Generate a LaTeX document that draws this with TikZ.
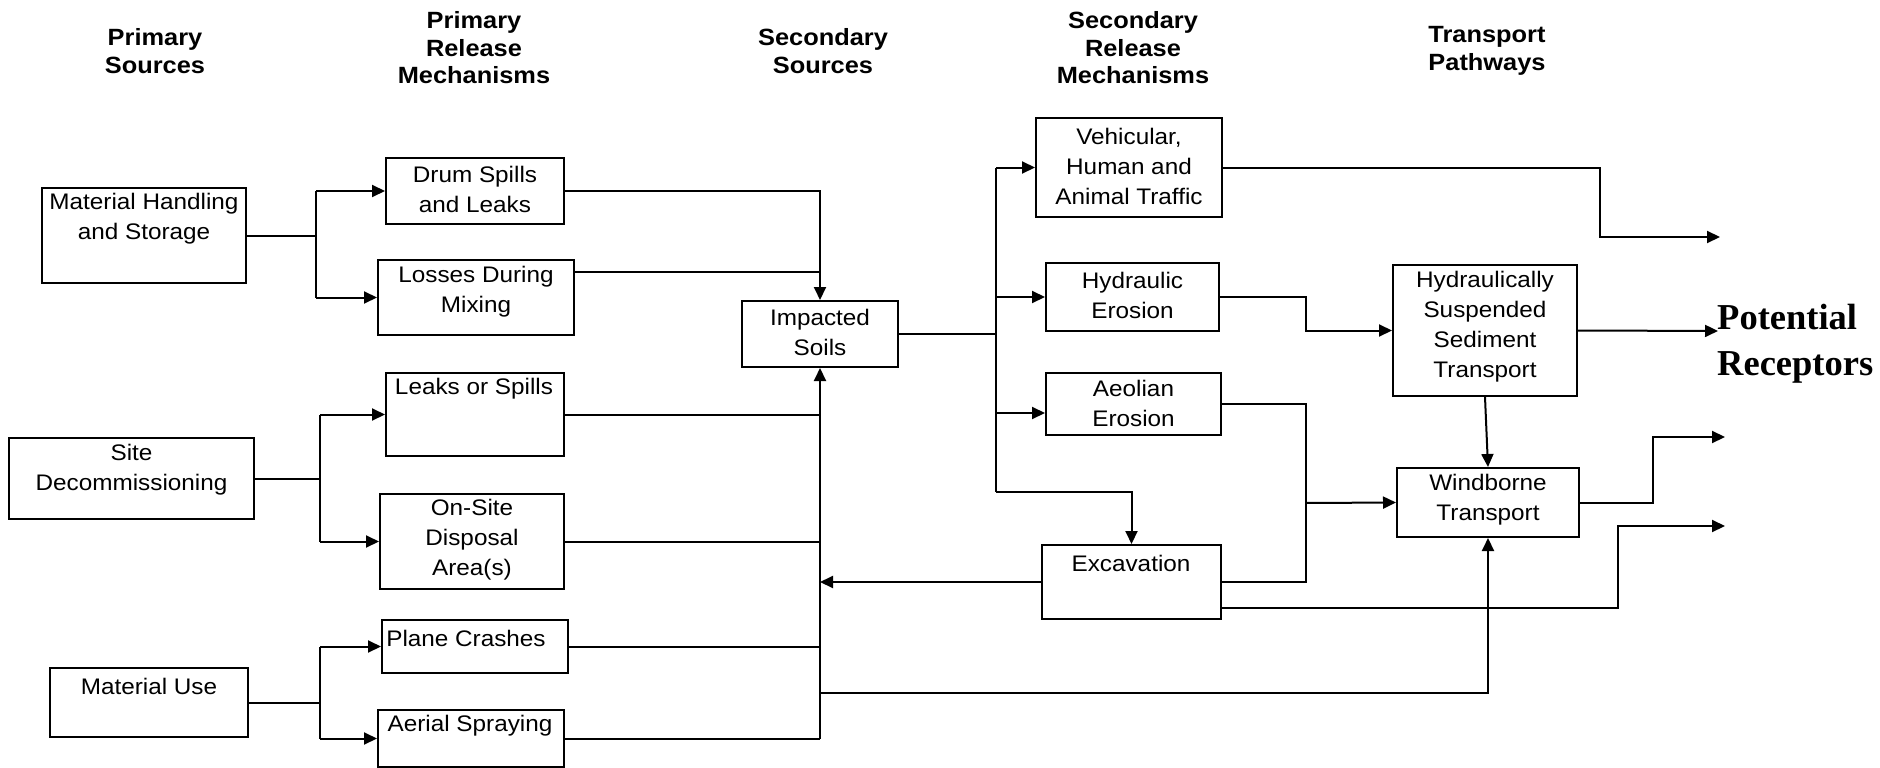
\documentclass[tikz,border=0pt]{standalone}
\usepackage{fontspec}
\setmainfont{Liberation Sans}[FakeStretch=1.08]
\newfontfamily\recfont{Liberation Serif}
\usetikzlibrary{arrows.meta,calc}
\newcommand\boxfont{\fontsize{22.5}{30}\selectfont}
\newcommand\hdrfont{\fontsize{23.5}{27.5}\selectfont\bfseries}
\begin{document}
\begin{tikzpicture}[x=1pt,y=-1pt,
  box/.style={draw, line width=2pt, inner sep=0pt},
  txt/.style={align=center, inner sep=0pt, font=\boxfont},
  hdr/.style={align=center, inner sep=0pt, font=\hdrfont},
  ln/.style={line width=2pt},
  arr/.style={line width=2pt, -{Triangle[length=13pt,width=12pt]}}]
\useasboundingbox (0,0) rectangle (1880,768);

% headers
\node[hdr] (h1) at (155,51) {Primary\\Sources};
\node[hdr] (h2) at (474,48) {Primary\\Release\\Mechanisms};
\node[hdr] (h3) at (823,51) {Secondary\\Sources};
\node[hdr] (h4) at (1133,48) {Secondary\\Release\\Mechanisms};
\node[hdr] (h5) at (1487,51) {Transport\\Pathways};

% primary sources
\node[box, minimum width=204, minimum height=95] (mh) at (144,235.5) {};
\node[txt] (mht) at (144,219) {Material Handling\\and Storage};
\node[box, minimum width=245, minimum height=81] (sd) at (131.5,478.5) {};
\node[txt] (sdt) at (131.5,470) {Site\\Decommissioning};
\node[box, minimum width=198, minimum height=69] (mu) at (149,702.5) {};
\node[txt] (mut) at (149,686) {Material Use};

% primary release mechanisms
\node[box, minimum width=178, minimum height=66] (drum) at (475,191) {};
\node[txt] (drumt) at (475,189) {Drum Spills\\and Leaks};
\node[box, minimum width=196, minimum height=75] (loss) at (476,297.5) {};
\node[txt] (losst) at (476,292) {Losses During\\Mixing};
\node[box, minimum width=178, minimum height=83] (leaks) at (475,414.5) {};
\node[txt] (leakst) at (474,389) {Leaks or Spills};
\node[box, minimum width=184, minimum height=95] (onsite) at (472,541.5) {};
\node[txt] (onsitet) at (472,540) {On-Site\\Disposal\\Area(s)};
\node[box, minimum width=186, minimum height=53] (plane) at (475,646.5) {};
\node[txt] (planet) at (466,638) {Plane Crashes};
\node[box, minimum width=186, minimum height=57] (aerial) at (471,738.5) {};
\node[txt] (aerialt) at (470,726) {Aerial Spraying};

% secondary source
\node[box, minimum width=156, minimum height=66] (imp) at (820,334) {};
\node[txt] (impt) at (820,332) {Impacted\\Soils};

% secondary release mechanisms
\node[box, minimum width=186, minimum height=99] (veh) at (1129,167.5) {};
\node[txt] (veht) at (1129,166) {Vehicular,\\Human and\\Animal Traffic};
\node[box, minimum width=173, minimum height=68] (hyd) at (1132.5,297) {};
\node[txt] (hydt) at (1132.5,295) {Hydraulic\\Erosion};
\node[box, minimum width=175, minimum height=62] (aeo) at (1133.5,404) {};
\node[txt] (aeot) at (1133.5,403) {Aeolian\\Erosion};
\node[box, minimum width=179, minimum height=74] (exc) at (1131.5,582) {};
\node[txt] (exct) at (1131,563) {Excavation};

% transport pathways
\node[box, minimum width=184, minimum height=131] (hsst) at (1485,330.5) {};
\node[txt] (hsstt) at (1485,327) {Hydraulically\\Suspended\\Sediment\\Transport};
\node[box, minimum width=182, minimum height=69] (wind) at (1488,502.5) {};
\node[txt] (windt) at (1488,500) {Windborne\\Transport};

% receptors
\node[anchor=west, align=left, inner sep=0pt, font=\recfont\bfseries\fontsize{36.5}{46}\selectfont] (rec) at (1717,344) {Potential\\Receptors};

% coordinates
\coordinate (b1) at (316,236);
\coordinate (b2) at (320,479);
\coordinate (b3) at (320,702);
\coordinate (t1) at (820,272);
\coordinate (bl) at (820,693);
\coordinate (c1) at (996,334);
\coordinate (c2) at (996,492);
\coordinate (j)  at (1306,503);
\coordinate (p1) at (1600,237);
\coordinate (r1) at (1720,237);
\coordinate (r2) at (1718,331);
\coordinate (p3) at (1653,437);
\coordinate (r3) at (1725,437);
\coordinate (p4) at (1618,526);
\coordinate (r4) at (1725,526);

% primary sources -> release mechanisms
\draw[ln] (mh.east) -- (mh.east -| b1);
\draw[ln] (b1 |- drum.west) -- (b1 |- loss.west);
\draw[arr] (b1 |- drum.west) -- (drum.west);
\draw[arr] (b1 |- loss.west) -- (loss.west);

\draw[ln] (sd.east) -- (sd.east -| b2);
\draw[ln] (b2 |- leaks.west) -- (b2 |- onsite.west);
\draw[arr] (b2 |- leaks.west) -- (leaks.west);
\draw[arr] (b2 |- onsite.west) -- (onsite.west);

\draw[ln] (mu.east) -- (mu.east -| b3);
\draw[ln] (b3 |- plane.west) -- (b3 |- aerial.west);
\draw[arr] (b3 |- plane.west) -- (plane.west);
\draw[arr] (b3 |- aerial.west) -- (aerial.west);

% release mechanisms -> impacted soils
\draw[arr] (drum.east) -| (imp.north);
\draw[ln] (loss.east |- t1) -- (t1);
\draw[ln] (leaks.east) -- (leaks.east -| imp.south);
\draw[ln] (onsite.east) -- (onsite.east -| imp.south);
\draw[ln] (plane.east) -- (plane.east -| imp.south);
\draw[ln] (aerial.east) -- (aerial.east -| imp.south);
\draw[arr] (aerial.east -| imp.south) -- (imp.south);
\draw[arr] (exc.west) -- (exc.west -| imp.south);
\draw[arr] (bl) -| (wind.south);

% impacted soils -> secondary release mechanisms
\draw[ln] (imp.east) -- (c1);
\draw[ln] (c1 |- veh.west) -- (c2);
\draw[arr] (c1 |- veh.west) -- (veh.west);
\draw[arr] (c1 |- hyd.west) -- (hyd.west);
\draw[arr] ($(c1 |- aeo.west)+(0,9)$) -- ($(aeo.west)+(0,9)$);
\draw[arr] (c2) -| (exc.north);

% secondary release -> transport
\draw[arr] (veh.east) -| (p1) -- (r1);
\draw[arr] (hyd.east) -| (j |- hsst.west) -- (hsst.west);
\draw[ln] (aeo.east) -| (j |- exc.east) -- (exc.east);
\draw[arr] (j) -- (wind.west);
\draw[arr] (hsst.south) -- (wind.north);
\draw[arr] (hsst.east) -- (r2);
\draw[arr] (wind.east) -| (p3) -- (r3);
\draw[arr] ($(exc.east)+(0,26)$) -| (p4) -- (r4);
\end{tikzpicture}
\end{document}
